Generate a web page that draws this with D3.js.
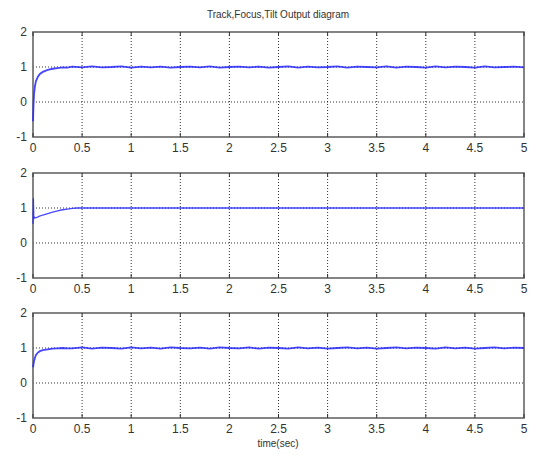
<!DOCTYPE html>
<meta charset="utf-8">
<style>
  body { margin: 0; background: #fff; }
  text { font-family: "Liberation Sans", Arial, sans-serif; fill: #333; }
  .grid line { stroke: #000; stroke-dasharray: 1,2; stroke-opacity: .8; }
  .frame { fill: none; stroke: #666; stroke-width: 1.6; }
</style>
<body>
<script src="https://d3js.org/d3.v7.min.js"></script>
<script>
  var xTicks = [0, 0.5, 1, 1.5, 2, 2.5, 3, 3.5, 4, 4.5, 5];
  var yTicks = [-1, 0, 1, 2];

  // steady-state sample times (0.4 .. 5.0 every 0.1)
  var steadyT = d3.range(4, 51).map(function (k) { return k / 10; });

  // Track
  var trackT = [0, 0.005, 0.01, 0.02, 0.03, 0.05, 0.07, 0.1, 0.15, 0.2, 0.25, 0.3, 0.35];
  var trackY = [-0.55, -0.1, 0.2, 0.45, 0.6, 0.72, 0.8, 0.86, 0.92, 0.95, 0.97, 0.99, 0.98];
  var trackSteady = [1.01, 0.99, 1.02, 0.99, 1.0, 1.02, 0.98, 1.01, 0.99, 1.01,
                     0.98, 1.0, 1.01, 0.99, 1.02, 0.98, 1.0, 1.01, 0.99, 1.01,
                     0.98, 1.0, 1.02, 0.98, 1.01, 0.99, 1.0, 1.02, 0.98, 1.01,
                     1.0, 0.99, 1.02, 0.98, 1.01, 1.0, 0.98, 1.02, 0.99, 1.01,
                     1.0, 0.98, 1.02, 0.99, 1.0, 1.01, 0.99];

  // Focus
  var focusT = [0, 0.004, 0.008, 0.012, 0.02, 0.04, 0.06, 0.1, 0.15, 0.2, 0.25, 0.3, 0.35, 0.4, 0.45, 0.5, 5];
  var focusY = [0.55, 1.28, 0.68, 0.75, 0.72, 0.73, 0.76, 0.8, 0.84, 0.88, 0.92, 0.95, 0.97, 0.99, 1.0, 1.0, 1.0];

  // Tilt
  var tiltT = [0, 0.01, 0.02, 0.03, 0.05, 0.07, 0.1, 0.15, 0.2, 0.25, 0.3, 0.35];
  var tiltY = [0.45, 0.62, 0.72, 0.8, 0.87, 0.91, 0.94, 0.96, 0.98, 0.99, 1.0, 0.99];
  var tiltSteady = [0.99, 1.02, 0.98, 1.01, 1.0, 0.98, 1.02, 0.99, 1.01, 0.98,
                    1.02, 1.0, 0.99, 1.01, 0.98, 1.02, 1.0, 0.99, 1.02, 0.98,
                    1.01, 1.0, 0.98, 1.02, 0.99, 1.01, 0.98, 1.0, 1.02, 0.99,
                    1.01, 0.98, 1.0, 1.02, 0.99, 1.01, 1.0, 0.98, 1.02, 0.99,
                    1.01, 0.98, 1.0, 1.02, 0.99, 1.01, 1.0];

  function pts(t, y) { return t.map(function (d, i) { return [d, y[i]]; }); }

  var series = [
    pts(trackT, trackY).concat(pts(steadyT, trackSteady)),
    pts(focusT, focusY),
    pts(tiltT, tiltY).concat(pts(steadyT, tiltSteady))
  ];
  var tops = [32, 173, 313];

  var W = 539, H = 459, left = 33, right = 524, ph = 105;

  var svg = d3.select("body").append("svg").attr("width", W).attr("height", H);

  var x = d3.scaleLinear().domain([0, 5]).range([left, right]);

  series.forEach(function (data, i) {
    var top = tops[i];
    var y = d3.scaleLinear().domain([-1, 2]).range([top + ph, top]);
    var g = svg.append("g");

    var grid = g.append("g").attr("class", "grid");
    grid.selectAll(".vx").data(xTicks.slice(1, -1)).enter().append("line")
      .attr("x1", x).attr("x2", x).attr("y1", top).attr("y2", top + ph);
    grid.selectAll(".hy").data(yTicks.slice(1, -1)).enter().append("line")
      .attr("x1", left).attr("x2", right).attr("y1", y).attr("y2", y);

    g.append("rect").attr("class", "frame")
      .attr("x", left).attr("y", top).attr("width", right - left).attr("height", ph);

    // inward ticks
    g.selectAll(".tb").data(xTicks).enter().append("line")
      .attr("x1", x).attr("x2", x).attr("y1", top + ph).attr("y2", top + ph - 4)
      .attr("stroke", "#333");
    g.selectAll(".tt").data(xTicks).enter().append("line")
      .attr("x1", x).attr("x2", x).attr("y1", top).attr("y2", top + 4)
      .attr("stroke", "#333");

    var line = d3.line().x(function (d) { return x(d[0]); }).y(function (d) { return y(d[1]); });
    g.append("path").datum(data)
      .attr("d", line)
      .attr("fill", "none")
      .attr("stroke", "#2626ff")
      .attr("stroke-width", i === 1 ? 1.3 : 1.8)
      .attr("stroke-opacity", 0.85);

    g.selectAll(".xl").data(xTicks).enter().append("text")
      .attr("x", x).attr("y", top + ph + 15)
      .attr("text-anchor", "middle").attr("font-size", 12)
      .text(function (d) { return d; });
    g.selectAll(".yl").data(yTicks).enter().append("text")
      .attr("x", left - 6).attr("y", function (d) { return y(d) + 4; })
      .attr("text-anchor", "end").attr("font-size", 12)
      .text(function (d) { return d; });
  });

  svg.append("text").attr("x", 278).attr("y", 18)
    .attr("text-anchor", "middle").attr("font-size", 10)
    .text("Track,Focus,Tilt Output diagram");

  svg.append("text").attr("x", 278).attr("y", 447)
    .attr("text-anchor", "middle").attr("font-size", 10)
    .text("time(sec)");
</script>
</body>
